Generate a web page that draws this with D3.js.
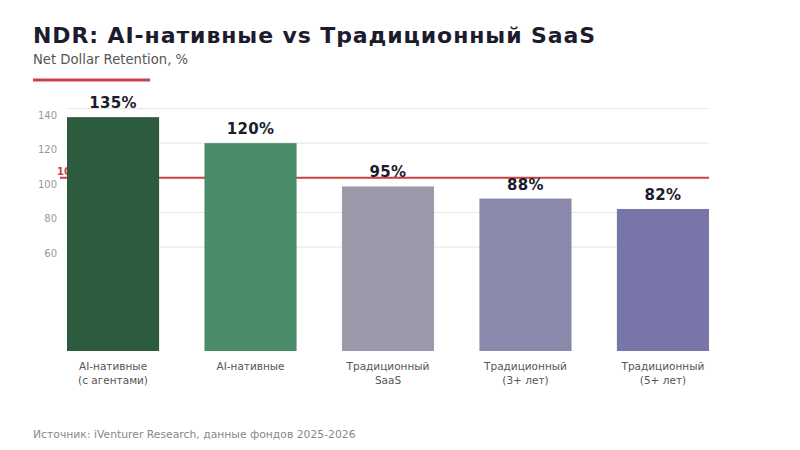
<!DOCTYPE html>
<html>
<head>
<meta charset="utf-8">
<script src="https://cdn.jsdelivr.net/npm/d3@7"></script>
<style>
  body { margin: 0; background: #fff; }
  svg { display: block; font-family: "DejaVu Sans", sans-serif; }
</style>
</head>
<body>
<svg id="chart" width="800" height="450"></svg>
<script>
// Data
const categories = [
  ['AI-нативные', '(с агентами)'],
  ['AI-нативные'],
  ['Традиционный', 'SaaS'],
  ['Традиционный', '(3+ лет)'],
  ['Традиционный', '(5+ лет)']
];
const values = [135, 120, 95, 88, 82];
const barColors = ['#2d5b3e', '#4a8c6a', '#9b9aaa', '#8a88ab', '#7876a9'];
const yTicks = [60, 80, 100, 120, 140];
const refValue = 100;

const svg = d3.select('#chart');
const x = d3.scaleBand().domain(d3.range(values.length)).range([67, 709]).paddingInner(0.33).paddingOuter(0);
const y = d3.scaleLinear().domain([0, 140]).range([351, 108.5]);

// header
svg.append('text').attr('x', 33).attr('y', 43)
  .attr('font-size', 22).attr('font-weight', 'bold').attr('fill', '#1c1c2e')
  .attr('letter-spacing', 0.9)
  .text('NDR: AI-нативные vs Традиционный SaaS');
svg.append('text').attr('x', 33).attr('y', 64)
  .attr('font-size', 13.2).attr('fill', '#555')
  .text('Net Dollar Retention, %');
svg.append('rect').attr('x', 33).attr('y', 78.5).attr('width', 117).attr('height', 3).attr('fill', '#c94343');

// grid + y tick labels (labels sit a little under their lines)
svg.append('g').selectAll('line').data(yTicks).join('line')
  .attr('x1', 67).attr('x2', 709)
  .attr('y1', d => y(d)).attr('y2', d => y(d))
  .attr('stroke', '#e6e6e6').attr('stroke-width', 1);
svg.append('g').selectAll('text').data(yTicks).join('text')
  .attr('x', 57).attr('y', d => y(d) + 10)
  .attr('text-anchor', 'end').attr('font-size', 10).attr('fill', '#999')
  .text(d => d);

// reference line at 100 (behind bars)
svg.append('line')
  .attr('x1', 60).attr('x2', 709)
  .attr('y1', y(refValue)).attr('y2', y(refValue))
  .attr('stroke', '#c94343').attr('stroke-width', 2);
svg.append('text').attr('x', 57).attr('y', y(refValue) - 3)
  .attr('font-size', 10).attr('font-weight', 'bold').attr('fill', '#c94343')
  .text(refValue + '%');

// bars
svg.append('g').selectAll('rect').data(values).join('rect')
  .attr('x', (d, i) => x(i))
  .attr('y', d => y(d))
  .attr('width', x.bandwidth())
  .attr('height', d => y(0) - y(d))
  .attr('fill', (d, i) => barColors[i]);

// value labels
svg.append('g').selectAll('text').data(values).join('text')
  .attr('x', (d, i) => x(i) + x.bandwidth() / 2)
  .attr('y', d => y(d) - 9)
  .attr('text-anchor', 'middle').attr('font-size', 15).attr('font-weight', 'bold').attr('fill', '#1c1c2e')
  .attr('letter-spacing', 0.3)
  .text(d => d + '%');

// category labels
const catG = svg.append('g').selectAll('text').data(categories).join('text')
  .attr('x', (d, i) => x(i) + x.bandwidth() / 2)
  .attr('y', 370)
  .attr('text-anchor', 'middle').attr('font-size', 10.5).attr('fill', '#555');
catG.selectAll('tspan').data(d => d).join('tspan')
  .attr('x', function () { return d3.select(this.parentNode).attr('x'); })
  .attr('dy', (d, i) => i === 0 ? 0 : 14)
  .text(d => d);

// source
svg.append('text').attr('x', 33).attr('y', 438)
  .attr('font-size', 10.8).attr('fill', '#888')
  .text('Источник: iVenturer Research, данные фондов 2025-2026');
</script>
</body>
</html>
